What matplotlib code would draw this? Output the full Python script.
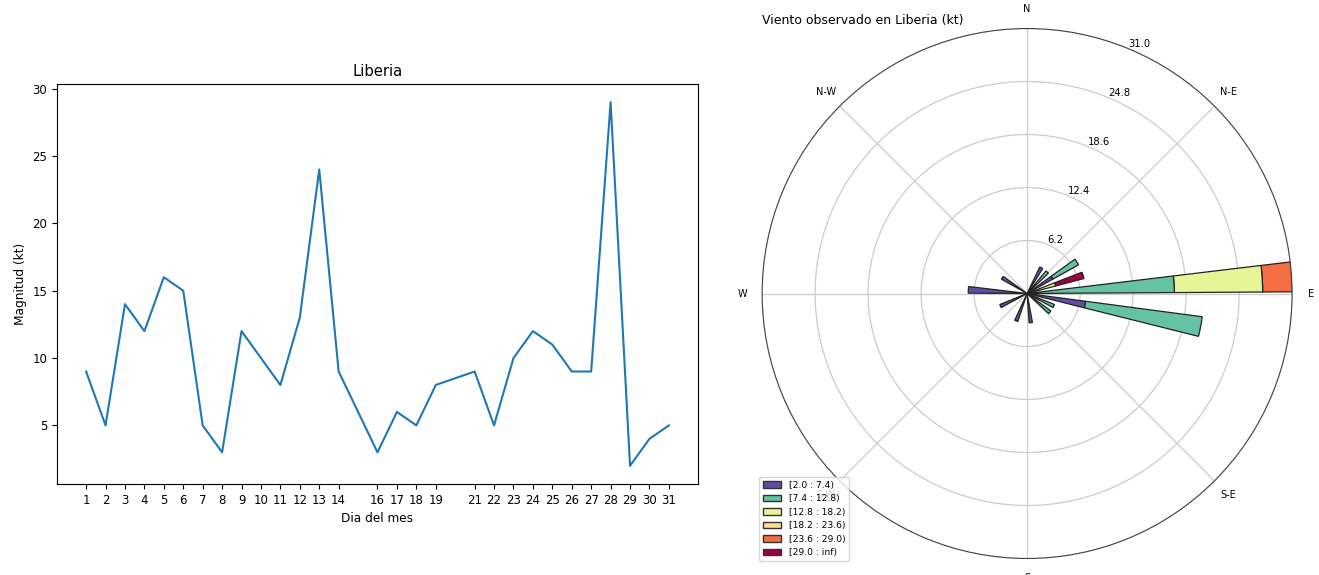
import matplotlib.pyplot as plt
import numpy as np

# Magnitud diaria del viento (kt); faltan los dias 15 y 20
dias = [1, 2, 3, 4, 5, 6, 7, 8, 9, 10, 11, 12, 13, 14, 16, 17, 18, 19,
        21, 22, 23, 24, 25, 26, 27, 28, 29, 30, 31]
magnitud = [9, 5, 14, 12, 16, 15, 5, 3, 12, 10, 8, 13, 24, 9, 3, 6, 5, 8,
            9, 5, 10, 12, 11, 9, 9, 29, 2, 4, 5]

# Rosa de vientos: direcciones (grados, desde el norte) y conteos por rango de velocidad
direcciones = [28.8, 43.2, 57.6, 72.0, 86.4, 100.8, 115.2, 129.6,
               172.8, 201.6, 244.8, 273.6, 302.4]
rango_2_74 = [1, 0, 1, 0, 0, 2, 0, 0, 1, 1, 1, 2, 1]
rango_74_128 = [0, 1, 1, 0, 5, 4, 1, 1, 0, 0, 0, 0, 0]
rango_128_182 = [0, 0, 0, 1, 3, 0, 0, 0, 0, 0, 0, 0, 0]
rango_182_236 = [0, 0, 0, 0, 0, 0, 0, 0, 0, 0, 0, 0, 0]
rango_236_290 = [0, 0, 0, 0, 1, 0, 0, 0, 0, 0, 0, 0, 0]
rango_290_inf = [0, 0, 0, 1, 0, 0, 0, 0, 0, 0, 0, 0, 0]
etiquetas_rangos = ["[2.0 : 7.4)", "[7.4 : 12.8)", "[12.8 : 18.2)",
                    "[18.2 : 23.6)", "[23.6 : 29.0)", "[29.0 : inf)"]
nsector = 50

fig = plt.figure(figsize=(13.19, 5.75), dpi=100)

# Grafica de la magnitud por dia
ax1 = fig.add_axes([0.0432, 0.1583, 0.486, 0.6957])
ax1.plot(dias, magnitud)
ax1.set_xticks(dias)
ax1.tick_params(labelsize=8.5)
ax1.set_xlabel("Dia del mes", fontsize=8.7)
ax1.set_ylabel("Magnitud (kt)", fontsize=8.7)
ax1.set_title("Liberia", fontsize=10.6)

# Rosa de vientos con barras apiladas en frecuencia (%)
ax2 = fig.add_axes([0.5778, 0.0287, 0.4018, 0.9217], projection="polar")
ax2.set_theta_zero_location("N")
ax2.set_theta_direction(-1)

tabla = np.array([rango_2_74, rango_74_128, rango_128_182,
                  rango_182_236, rango_236_290, rango_290_inf], dtype=float)
tabla = tabla / tabla.sum() * 100
colores = plt.cm.Spectral_r(np.linspace(0, 1, len(etiquetas_rangos)))
theta = np.radians(direcciones)
ancho = np.radians(360 / nsector) * 0.9

base = np.zeros(len(direcciones))
for i in range(len(etiquetas_rangos)):
    for j in range(len(direcciones)):
        if tabla[i, j] > 0:
            ax2.bar(theta[j], tabla[i, j], width=ancho, bottom=base[j],
                    color=colores[i], edgecolor="#222222", linewidth=0.9,
                    zorder=10 - i)
    base += tabla[i]

rmax = base.max()
ax2.set_ylim(0, rmax)
radios = np.linspace(0, rmax, 6)[1:]
ax2.set_rgrids(radios, labels=[f"{r:.1f}" for r in radios], angle=22.5,
               fontsize=7.2)
ax2.set_thetagrids(np.arange(0, 360, 45),
                   labels=["N", "N-E", "E", "S-E", "S", "S-W", "W", "N-W"],
                   fontsize=7)
ax2.grid(color="#cccccc", linewidth=0.9)
ax2.spines["polar"].set_color("#444444")
ax2.set_title("Viento observado en Liberia (kt)", loc="left", y=1.0,
              pad=3, fontsize=9)

handles = [plt.Rectangle((0, 0), 1, 1, facecolor=c, edgecolor="#333333")
           for c in colores]
ax2.legend(handles, etiquetas_rangos, loc="lower left", fontsize=6.6,
           bbox_to_anchor=(-0.005, -0.005), borderaxespad=0)

plt.savefig("out.png")
